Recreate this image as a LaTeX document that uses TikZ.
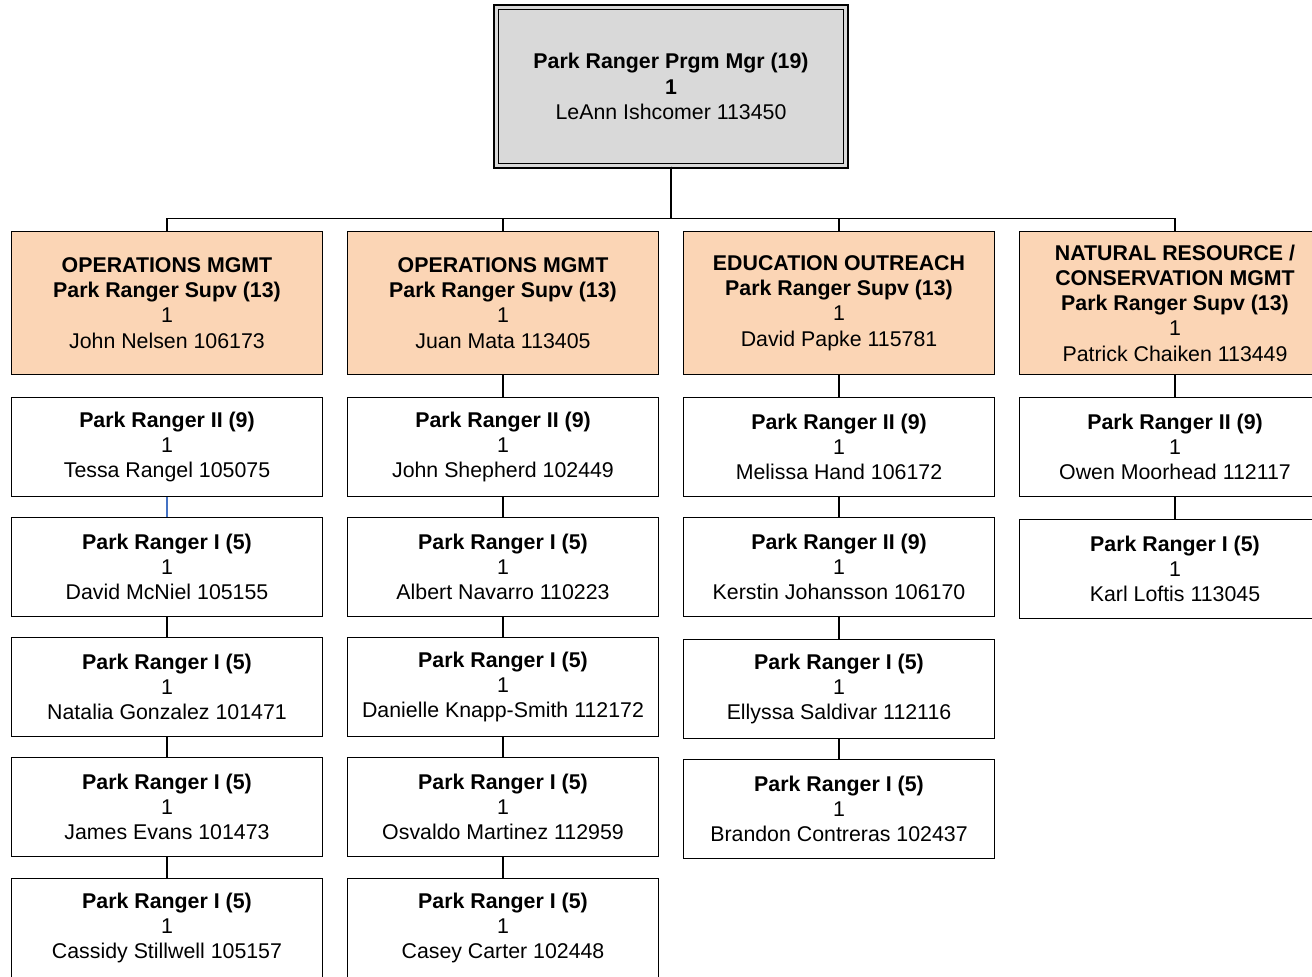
\documentclass[tikz,border=0pt]{standalone}
\usepackage{xcolor}
\usepackage{fontspec}
\setmainfont{Liberation Sans}
\usepackage{tikz}
\definecolor{mgrgray}{RGB}{217,217,217}
\definecolor{supvpeach}{RGB}{251,213,181}
\definecolor{linkblue}{RGB}{68,114,196}

\begin{document}
\begin{tikzpicture}[
  x=0.75pt, y=-0.75pt,
  font=\fontsize{16}{18.9}\selectfont,
  mgr/.style={draw,line width=1.1pt,double=mgrgray,double distance=2.2pt,fill=mgrgray,minimum width=262pt,minimum height=119pt,align=center,inner sep=0pt},
  supv/.style={draw,line width=1.2pt,fill=supvpeach,minimum width=233pt,minimum height=107pt,align=center,inner sep=0pt},
  ranger/.style={draw,line width=1.2pt,fill=white,minimum width=233pt,minimum height=74pt,align=center,inner sep=0pt},
  link/.style={line width=0.85pt},
]
\useasboundingbox (0,0) rectangle (1312,976);

% Program manager
\node[mgr] (mgr) at (671,86.5) {\textbf{Park Ranger Prgm Mgr (19)}\\\textbf{1}\\LeAnn Ishcomer 113450};

% Supervisors
\node[supv] (opa) at (167,303) {\textbf{OPERATIONS MGMT}\\\textbf{Park Ranger Supv (13)}\\1\\John Nelsen 106173};
\node[supv] (opb) at (503,303) {\textbf{OPERATIONS MGMT}\\\textbf{Park Ranger Supv (13)}\\1\\Juan Mata 113405};
\node[supv] (edu) at (839,303) {\textbf{EDUCATION OUTREACH}\\\textbf{Park Ranger Supv (13)}\\1\\David Papke 115781};
\node[supv] (nat) at (1175,303) {\textbf{NATURAL RESOURCE /}\\\textbf{CONSERVATION MGMT}\\\textbf{Park Ranger Supv (13)}\\1\\Patrick Chaiken 113449};

% Operations (Nelsen)
\node[ranger] (opa1) at (167,447) {\textbf{Park Ranger II (9)}\\1\\Tessa Rangel 105075};
\node[ranger] (opa2) at (167,567) {\textbf{Park Ranger I (5)}\\1\\David McNiel 105155};
\node[ranger] (opa3) at (167,687) {\textbf{Park Ranger I (5)}\\1\\Natalia Gonzalez 101471};
\node[ranger] (opa4) at (167,807) {\textbf{Park Ranger I (5)}\\1\\James Evans 101473};
\node[ranger] (opa5) at (167,928) {\textbf{Park Ranger I (5)}\\1\\Cassidy Stillwell 105157};

% Operations (Mata)
\node[ranger] (opb1) at (503,447) {\textbf{Park Ranger II (9)}\\1\\John Shepherd 102449};
\node[ranger] (opb2) at (503,567) {\textbf{Park Ranger I (5)}\\1\\Albert Navarro 110223};
\node[ranger] (opb3) at (503,687) {\textbf{Park Ranger I (5)}\\1\\Danielle Knapp-Smith 112172};
\node[ranger] (opb4) at (503,807) {\textbf{Park Ranger I (5)}\\1\\Osvaldo Martinez 112959};
\node[ranger] (opb5) at (503,928) {\textbf{Park Ranger I (5)}\\1\\Casey Carter 102448};

% Education outreach
\node[ranger] (edu1) at (839,447) {\textbf{Park Ranger II (9)}\\1\\Melissa Hand 106172};
\node[ranger] (edu2) at (839,567) {\textbf{Park Ranger II (9)}\\1\\Kerstin Johansson 106170};
\node[ranger] (edu3) at (839,689) {\textbf{Park Ranger I (5)}\\1\\Ellyssa Saldivar 112116};
\node[ranger] (edu4) at (839,809) {\textbf{Park Ranger I (5)}\\1\\Brandon Contreras 102437};

% Natural resource
\node[ranger] (nat1) at (1175,447) {\textbf{Park Ranger II (9)}\\1\\Owen Moorhead 112117};
\node[ranger] (nat2) at (1175,569) {\textbf{Park Ranger I (5)}\\1\\Karl Loftis 113045};

% Lines
\draw[link] (mgr.south) -- ++(0,52) -| (opa.north);
\draw[link] (mgr.south) -- ++(0,52) -| (opb.north);
\draw[link] (mgr.south) -- ++(0,52) -| (edu.north);
\draw[link] (mgr.south) -- ++(0,52) -| (nat.north);

\draw[link,linkblue] (opa1.south) -- (opa2.north);
\draw[link] (opa2.south) -- (opa3.north) (opa3.south) -- (opa4.north) (opa4.south) -- (opa5.north);
\draw[link] (opb.south) -- (opb1.north) (opb1.south) -- (opb2.north) (opb2.south) -- (opb3.north)
  (opb3.south) -- (opb4.north) (opb4.south) -- (opb5.north);
\draw[link] (edu.south) -- (edu1.north) (edu1.south) -- (edu2.north) (edu2.south) -- (edu3.north)
  (edu3.south) -- (edu4.north);
\draw[link] (nat.south) -- (nat1.north) (nat1.south) -- (nat2.north);

\end{tikzpicture}
\end{document}
